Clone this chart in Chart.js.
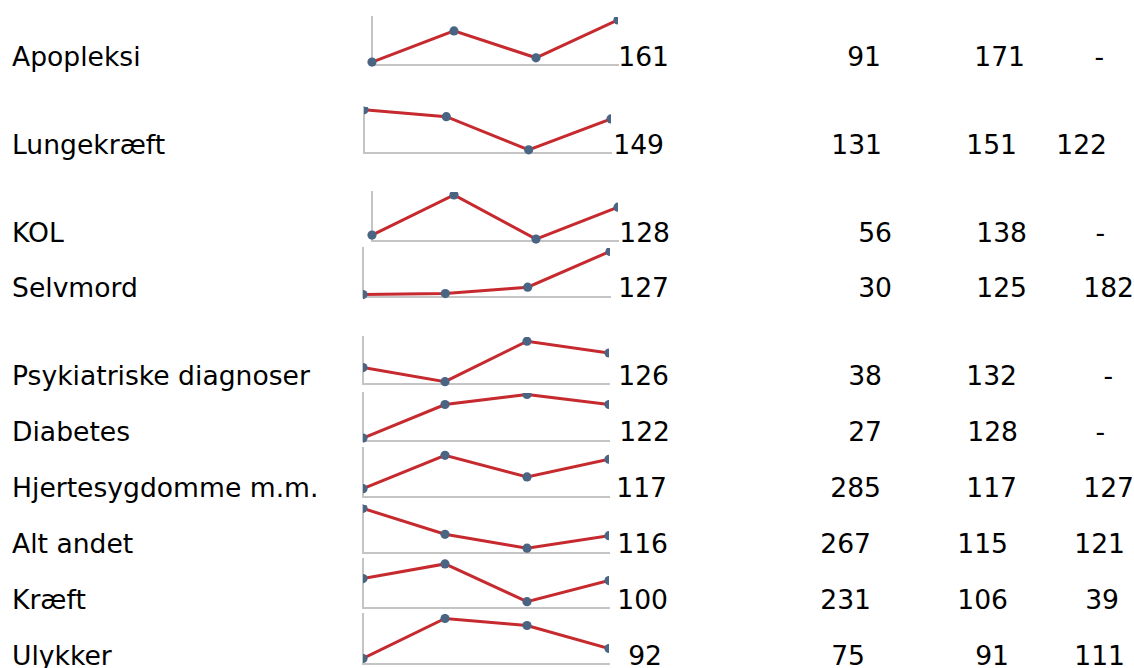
<!DOCTYPE html>
<html>
<head>
<meta charset="utf-8">
<script src="https://cdn.jsdelivr.net/npm/chart.js@4"></script>
<style>
  html, body { margin:0; padding:0; background:#fff; }
  body { width:1134px; height:668px; position:relative; overflow:hidden;
         font-family:"DejaVu Sans", Verdana, sans-serif; color:#000; }
  .t { position:absolute; font-size:26.6px; line-height:26.6px; white-space:nowrap; }
  .r { text-align:right; }
  canvas.spark { position:absolute; }
</style>
</head>
<body>
<script>
// ---------- DATA ----------
const categories = ["Apopleksi","Lungekræft","KOL","Selvmord","Psykiatriske diagnoser",
  "Diabetes","Hjertesygdomme m.m.","Alt andet","Kræft","Ulykker"];
const periodLabels = ["1","2","3","4"];
// trend shown in each sparkline (relative index)
const trendValues = [
  [6, 71, 15, 94],
  [94, 79, 7, 74],
  [12, 94, 4, 69],
  [5, 7, 20, 93],
  [35, 5, 91, 66],
  [6, 76, 97, 76],
  [17, 85, 41, 77],
  [93, 39, 10, 36],
  [60, 90, 13, 56],
  [11, 91, 77, 31]
];
const col1 = ["161","149","128","127","126","122","117","116","100","92"];
const col2 = ["91","131","56","30","38","27","285","267","231","75"];
const col3 = ["171","151","138","125","132","128","117","115","106","91"];
const col4 = ["-","122","-","182","-","-","127","121","39","111"];

// ---------- LAYOUT (positions only) ----------
const baselines = [67,155,243,298,386,442,498,554,610,666];
// sparkline boxes: [left, top, right, bottom]
const boxes = [
  [372,17,618,65],[364,107,611,153],[372,192,618,241],[363,248,610,297],
  [363,337,609,384],[363,393,609,441],[363,448,609,497],[363,505,609,553],
  [363,559,609,608],[363,614,609,664]
];
const clipLeft = [8,0,8,0,0,0,0,0,0,0];
// ink right edges of the number columns
const rightA = [667,662,668,667,667,668,665,666,666,660];
const rightB = [879,880,890,890,880,880,879,869,869,863];
const rightC = [1023,1015,1025,1025,1015,1016,1015,1006,1006,1007];
const rightD = [1102,1105,1103,1132,1111,1103,1132,1123,1117,1123];

const FONT = 26.6;
const ASC = 0.928, DESC = 0.236;
const baseOff = (FONT - (ASC+DESC)*FONT)/2 + ASC*FONT; // baseline offset from box top

function addText(str, x, baseline, right) {
  const d = document.createElement('div');
  d.className = 't' + (right ? ' r' : '');
  d.textContent = str;
  d.style.top = (baseline - baseOff) + 'px';
  if (right) d.style.right = (1134 - x - 2) + 'px';
  else d.style.left = x + 'px';
  document.body.appendChild(d);
}

const PAD = 8;
categories.forEach((cat, i) => {
  addText(cat, 12, baselines[i], false);
  addText(col1[i], rightA[i], baselines[i], true);
  addText(col2[i], rightB[i], baselines[i], true);
  addText(col3[i], rightC[i], baselines[i], true);
  addText(col4[i], rightD[i], baselines[i], true);

  const [l, t, r, b] = boxes[i];
  const cv = document.createElement('canvas');
  cv.className = 'spark';
  cv.width = (r - l) + 2*PAD;
  cv.height = (b - t) + 2*PAD;
  cv.style.left = (l - PAD) + 'px';
  cv.style.top = (t - PAD) + 'px';
  cv.style.width = cv.width + 'px';
  cv.style.height = cv.height + 'px';
  document.body.appendChild(cv);

  new Chart(cv, {
    type: 'line',
    data: {
      labels: periodLabels,
      datasets: [{
        data: trendValues[i],
        borderColor: '#c62a2e',
        borderWidth: 3,
        tension: 0,
        pointRadius: 4.6,
        pointBackgroundColor: '#4a6583',
        pointBorderWidth: 0,
        clip: {left: clipLeft[i], top: 0, right: 0, bottom: 8}
      }]
    },
    options: {
      responsive: false,
      animation: false,
      devicePixelRatio: 1,
      layout: { padding: PAD },
      plugins: { legend: { display: false }, tooltip: { enabled: false } },
      scales: {
        x: {
          offset: false,
          ticks: { display: false },
          grid: { display: false, drawTicks: false, tickLength: 0 },
          border: { display: true, color: '#c4c4c4', width: 2 }
        },
        y: {
          min: 0, max: 100,
          ticks: { display: false },
          grid: { display: false, drawTicks: false, tickLength: 0 },
          border: { display: true, color: '#c4c4c4', width: 2 }
        }
      }
    }
  });
});
</script>
</body>
</html>
